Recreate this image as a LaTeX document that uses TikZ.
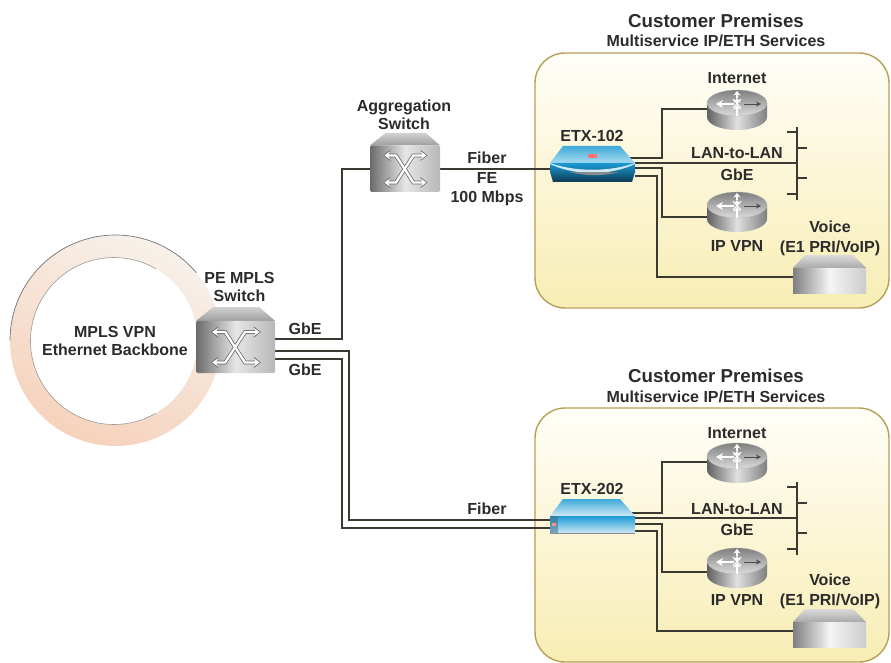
\documentclass[tikz,border=0pt]{standalone}
\usepackage{fontspec}
\setmainfont{Liberation Sans}
\usetikzlibrary{arrows.meta,calc}
\definecolor{ink}{HTML}{2B2B2B}
\definecolor{wire}{HTML}{3A3A32}
\definecolor{panelEdge}{HTML}{B3A254}
\definecolor{panelTop}{HTML}{FFFEF8}
\definecolor{panelBot}{HTML}{F8EDB4}
\definecolor{PeachA}{HTML}{F6D2BC}
\definecolor{PeachC}{HTML}{F7F1EA}
\definecolor{BlueA}{HTML}{3FA9D8}
\definecolor{BlueB}{HTML}{1B9AD6}
\definecolor{BlueC}{HTML}{A8DCF0}
\definecolor{BlueD}{HTML}{CFEAF5}
\definecolor{BlueE}{HTML}{0E3A50}
\definecolor{BlueF}{HTML}{2F7FA6}
\definecolor{BlueG}{HTML}{7FA8BC}
\tikzset{
  lbl/.style={font=\fontsize{16}{17.5}\selectfont\bfseries,text=ink,align=center,inner sep=0pt},
  head/.style={font=\fontsize{18.7}{20}\selectfont\bfseries,text=ink,align=center,inner sep=0pt},
  subhead/.style={font=\fontsize{16}{18}\selectfont\bfseries,text=ink,align=center,inner sep=0pt},
  wirel/.style={draw=wire,line width=1.6pt,line join=miter},
  port/.style={inner sep=0pt,minimum size=0pt,draw=none},
  panel/.style={draw=panelEdge,line width=1.4pt,rounded corners=30pt,top color=panelTop,bottom color=panelBot}
}
% switch: left x, top y, width, height
\newcommand{\switchbox}[4]{%
  \begin{scope}[shift={(#1,#2)},xscale=#3/100,yscale=#4/100]
    \shade[top color=black!18,bottom color=black!38] (22,0) -- (80,0) -- (100,21) -- (0,21) -- cycle;
    \shade[left color=black!58,right color=black!28,middle color=black!10,rounded corners=1.5pt] (0,21) -- (100,21) -- (100,100) -- (0,100) -- cycle;
    \foreach \ya/\yb in {38/84,84/38}{
      \draw[line width=3.8pt,black!60,{Stealth[length=7pt,width=11pt]}-{Stealth[length=7pt,width=11pt]}] (19,\ya) -- (37,\ya) -- (62,\yb) -- (82,\yb);
    }
    \foreach \ya/\yb in {38/84,84/38}{
      \draw[line width=2.3pt,white,{Stealth[length=5.5pt,width=8pt]}-{Stealth[length=5.5pt,width=8pt]}] (20.5,\ya) -- (37,\ya) -- (62,\yb) -- (80.5,\yb);
    }
  \end{scope}}
% router: left x, top y (60 x 40)
\newcommand{\routerbox}[2]{%
  \begin{scope}[shift={(#1,#2)}]
    \shade[left color=black!62,right color=black!50,middle color=black!12] (0,13) -- (0,27) arc[start angle=180,end angle=0,x radius=30,y radius=13] -- (60,13) -- cycle;
    \shade[top color=black!50,bottom color=black!14,draw=black!30,line width=.3pt] (30,13) ellipse[x radius=30,y radius=13];
    \draw[line width=2.4pt,white,-{Stealth[length=7pt,width=8pt]}] (27,14) -- (9,14);
    \draw[line width=.9pt,black!70,-{Stealth[length=5pt,width=5pt,open]}] (37,14) -- (54,14);
    \draw[line width=2.4pt,white,-{Stealth[length=4.5pt,width=7pt]}] (30,8) -- (30,1);
    \draw[line width=2.4pt,white,-{Stealth[length=4.5pt,width=7pt]}] (30,13) -- (30,8);
    \draw[line width=2.4pt,white,-{Stealth[length=4.5pt,width=7pt]}] (30,20) -- (30,15);
    \draw[line width=2.4pt,white] (30,19) -- (30,26);
    \draw[line width=1pt,white] (26,9) -- (34,18) (34,9) -- (26,18);
  \end{scope}}
% voice box: left x, top y (73 x 38)
\newcommand{\voicebox}[2]{%
  \begin{scope}[shift={(#1,#2)}]
    \shade[top color=black!14,bottom color=black!34] (12,0) -- (60,0) -- (73,13) -- (0,13) -- cycle;
    \shade[left color=black!50,right color=black!20,middle color=black!4] (0,13) -- (73,13) -- (73,38) -- (0,38) -- cycle;
  \end{scope}}
\begin{document}
\begin{tikzpicture}[x=1pt,y=-1pt]
\useasboundingbox (0,0) rectangle (891,663);
% ring
\shade[even odd rule,top color=PeachC,bottom color=PeachA,shading angle=-25]
  (115.5,340.5) circle[radius=105.5] (114,341) circle[radius=83.5];
\draw[black!55,line width=.7pt] (10,340.5) arc[start angle=180,end angle=320,radius=105.5];
\draw[black!40,line width=.6pt] (30.5,341) arc[start angle=180,end angle=60,radius=83.5];
\draw[black!40,line width=.6pt] (30.5,341) arc[start angle=180,end angle=300,radius=83.5];
% panels
\path[panel] (535,53) rectangle (889,308);
\path[panel] (535,408) rectangle (889,662);
% named device nodes (drawn afterwards)
\node[port,minimum width=79pt,minimum height=66pt] (pe) at (235.5,340) {};
\node[port,minimum width=70pt,minimum height=59pt] (agg) at (405,162.5) {};
\node[port,minimum width=85pt,minimum height=36pt] (etxa) at (592.5,164) {};
\node[port,minimum width=85pt,minimum height=34pt] (etxb) at (592.5,516) {};
\node[port,minimum width=60pt,minimum height=40pt] (ria) at (737,110) {};
\node[port,minimum width=60pt,minimum height=40pt] (rva) at (737,212) {};
\node[port,minimum width=60pt,minimum height=40pt] (rib) at (737,463) {};
\node[port,minimum width=60pt,minimum height=40pt] (rvb) at (737,568) {};
\node[port,minimum width=73pt,minimum height=38pt] (voa) at (829.5,274) {};
\node[port,minimum width=73pt,minimum height=38pt] (vob) at (829.5,628) {};
% bus nodes
\coordinate (busa) at (797,163);
\coordinate (busb) at (797,518);
% wires backbone
\coordinate (b1) at (342,339);
\coordinate (b2) at (342,169);
\coordinate (c1) at (349,351);
\coordinate (c2) at (349,520);
\coordinate (d1) at (342,359);
\coordinate (d2) at (342,528);
\draw[wirel] (pe.east |- b1) -- (b1) -- (b2) -- (agg.west |- b2);
\draw[wirel] (agg.east |- b2) -- (etxa.west |- b2);
\draw[wirel] (pe.east |- c1) -- (c1) -- (c2) -- (etxb.west |- c2);
\draw[wirel] (pe.east |- d1) -- (d1) -- (d2) -- (etxb.west |- d2);
% wires site A
\coordinate (a1) at (662,158);
\coordinate (a2) at (662,109);
\coordinate (a3) at (662,168);
\coordinate (a4) at (662,217);
\coordinate (a5) at (657,176);
\coordinate (a6) at (657,277);
\draw[wirel] ([xshift=-5pt]etxa.east |- a1) -- (a1) -- (a2) -- (ria.west |- a2);
\draw[wirel] (etxa.east |- busa) -- (busa);
\draw[wirel] (etxa.east |- a3) -- (a3) -- (a4) -- (rva.west |- a4);
\draw[wirel] (etxa.east |- a5) -- (a5) -- (a6) -- (voa.west |- a6);
% wires site B
\coordinate (e1) at (662,513);
\coordinate (e2) at (662,462);
\coordinate (e3) at (662,524);
\coordinate (e4) at (662,572);
\coordinate (e5) at (657,531);
\coordinate (e6) at (657,631);
\draw[wirel] ([xshift=-5pt]etxb.east |- e1) -- (e1) -- (e2) -- (rib.west |- e2);
\draw[wirel] (etxb.east |- busb) -- (busb);
\draw[wirel] (etxb.east |- e3) -- (e3) -- (e4) -- (rvb.west |- e4);
\draw[wirel] (etxb.east |- e5) -- (e5) -- (e6) -- (vob.west |- e6);
% buses
\draw[wire,line width=2.4pt] (797,127) -- (797,200);
\draw[wire,line width=1.5pt] (787,132) -- (797,132) (797,148) -- (807,148) (797,178) -- (807,178) (787,194) -- (797,194);
\draw[wire,line width=2.4pt] (797,482) -- (797,555);
\draw[wire,line width=1.5pt] (787,487) -- (797,487) (797,503) -- (807,503) (797,533) -- (807,533) (787,549) -- (797,549);
% devices
\switchbox{196}{307}{79}{66}
\switchbox{370}{133}{70}{59}
\routerbox{707}{90}
\routerbox{707}{192}
\routerbox{707}{443}
\routerbox{707}{548}
\voicebox{793}{255}
\voicebox{793}{609}
% ETX-102
\shade[top color=BlueA,bottom color=BlueC] (563,146) -- (620,146) -- (635,163) -- (550,163) -- cycle;
\shade[top color=BlueB,bottom color=BlueE] (550,163) -- (635,163) -- (635,172) -- (632,182) -- (553,182) -- (550,172) -- cycle;
\fill[BlueD] (550,163) .. controls (575,172) and (610,172) .. (635,163) -- (635,164) .. controls (610,176) and (575,176) .. (550,164) -- cycle;
\fill[black!45] (570,172.5) .. controls (590,176) and (600,176) .. (618,172.5) .. controls (600,172) and (590,172) .. (570,172.5) -- cycle;
\fill[red!55!white] (588,154) rectangle (597,158);
% ETX-202
\shade[top color=BlueA,bottom color=BlueD] (563,499) -- (620,499) -- (635,516) -- (550,516) -- cycle;
\shade[top color=BlueB,bottom color=BlueD] (550,516) rectangle (635,533);
\shade[top color=BlueF,bottom color=BlueG] (550,516) rectangle (558,533);
\fill[red!45!white] (552,523) rectangle (556,526);
\draw[black!45,line width=.5pt] (550,533) -- (635,533);
% labels
\node[head] (t1) at (716,21) {Customer Premises};
\node[subhead] (t1b) at (716,41) {Multiservice IP/ETH Services};
\node[head] (t2) at (716,376) {Customer Premises};
\node[subhead] (t2b) at (716,397) {Multiservice IP/ETH Services};
\node[lbl] (l1) at (404,115) {Aggregation\\Switch};
\node[lbl] (l2) at (239.5,287) {PE MPLS\\Switch};
\node[lbl] (l3) at (115,341) {MPLS VPN\\Ethernet Backbone};
\node[lbl] (l4) at (305,329) {GbE};
\node[lbl] (l5) at (305,370) {GbE};
\node[lbl] (l6) at (487,158) {Fiber};
\node[lbl] (l7) at (487,189) {FE\\[2pt]100 Mbps};
\node[lbl] (l8) at (487,509) {Fiber};
\node[lbl] (l9) at (592,136) {ETX-102};
\node[lbl] (l10) at (737,78) {Internet};
\node[lbl] (l11) at (737,153) {LAN-to-LAN};
\node[lbl] (l12) at (737,175) {GbE};
\node[lbl] (l13) at (737,246) {IP VPN};
\node[lbl] (l14) at (830,238.5) {Voice\\[2pt](E1 PRI/VoIP)};
\node[lbl] (l15) at (592,489) {ETX-202};
\node[lbl] (l16) at (737,433) {Internet};
\node[lbl] (l17) at (737,509) {LAN-to-LAN};
\node[lbl] (l18) at (737,530) {GbE};
\node[lbl] (l19) at (737,600) {IP VPN};
\node[lbl] (l20) at (830,591.5) {Voice\\[2pt](E1 PRI/VoIP)};
\end{tikzpicture}
\end{document}
